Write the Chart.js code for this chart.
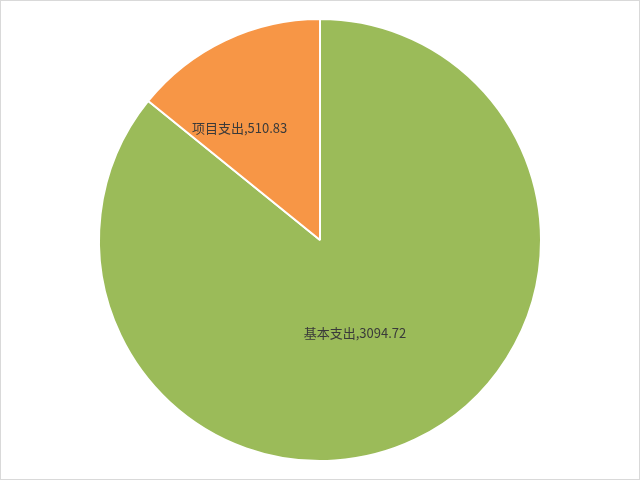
<!DOCTYPE html>
<html>
<head>
<meta charset="utf-8">
<script src="https://cdn.jsdelivr.net/npm/chart.js@4/dist/chart.umd.min.js"></script>
<style>
  html, body { margin: 0; padding: 0; background: #fff; }
  #wrap { width: 640px; height: 480px; box-sizing: border-box; border: 1px solid #d9d9d9; position: relative; }
  canvas { display: block; }
</style>
</head>
<body>
<div id="wrap"><canvas id="c" width="638" height="478"></canvas></div>
<script>
// 支出构成（万元）
const categories = ['基本支出', '项目支出'];
const values = [3094.72, 510.83];
const colors = ['#9BBB59', '#F79646'];

// Label placement inside each slice: fraction along the slice's sweep, fraction of radius
const labelPlacement = [
  { sweep: 0.516, radius: 0.45 },
  { sweep: 0.30, radius: 0.623 }
];

const sliceLabels = {
  id: 'sliceLabels',
  afterDatasetsDraw(chart) {
    const ctx = chart.ctx;
    const meta = chart.getDatasetMeta(0);
    ctx.save();
    ctx.font = '13px "Noto Sans CJK SC", "Microsoft YaHei", sans-serif';
    ctx.fillStyle = '#3a3a3a';
    ctx.textAlign = 'center';
    ctx.textBaseline = 'middle';
    meta.data.forEach((arc, i) => {
      const p = arc.getProps(['x', 'y', 'startAngle', 'endAngle', 'outerRadius'], true);
      const place = labelPlacement[i];
      const a = p.startAngle + (p.endAngle - p.startAngle) * place.sweep;
      const r = p.outerRadius * place.radius;
      const x = p.x + Math.cos(a) * r;
      const y = p.y + Math.sin(a) * r;
      ctx.fillText(categories[i] + ',' + values[i].toFixed(2), x, y);
    });
    ctx.restore();
  }
};

new Chart(document.getElementById('c'), {
  type: 'pie',
  data: {
    labels: categories,
    datasets: [{
      data: values,
      backgroundColor: colors,
      borderColor: '#ffffff',
      borderWidth: 2
    }]
  },
  options: {
    responsive: false,
    animation: false,
    layout: { padding: { top: 17, bottom: 17, left: 0, right: 0 } },
    plugins: {
      legend: { display: false },
      tooltip: { enabled: false }
    }
  },
  plugins: [sliceLabels]
});
</script>
</body>
</html>
